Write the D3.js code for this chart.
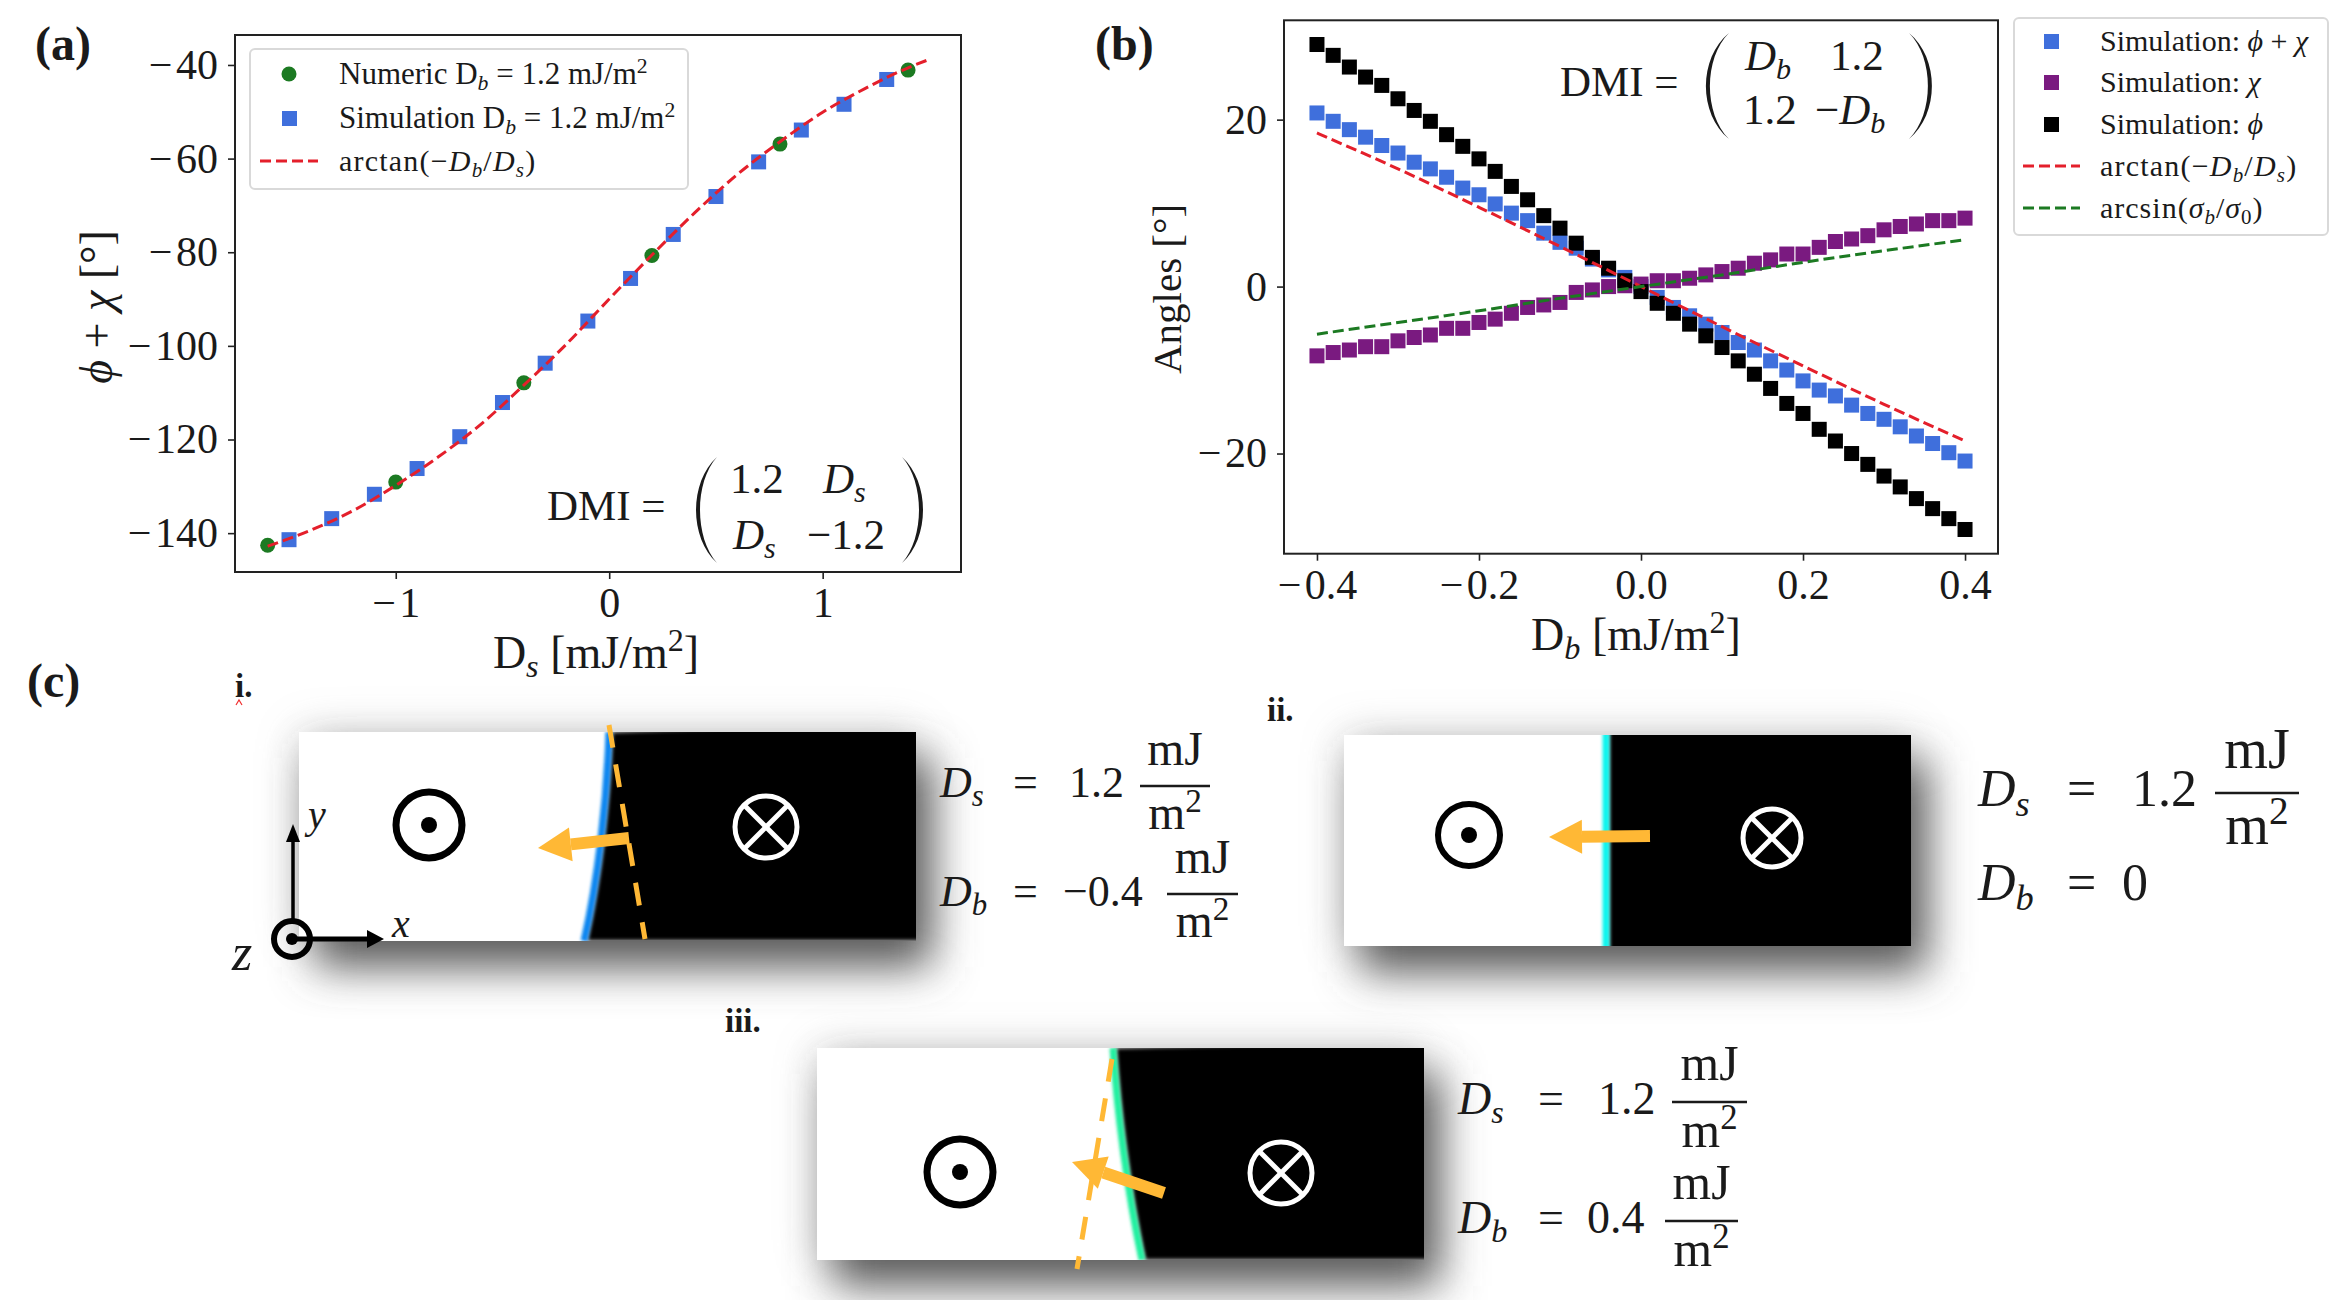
<!DOCTYPE html>
<html>
<head>
<meta charset="utf-8">
<script src="https://cdn.jsdelivr.net/npm/d3@7"></script>
<style>
  body { margin: 0; background: #fff; }
  svg { display: block; }
  text { font-family: "Liberation Serif", serif; fill: #1a1a1a; }
  .tick text { font-family: "Liberation Serif", serif; fill: #1a1a1a; }
</style>
</head>
<body>
<div id="chart"></div>
<script>
// panel (a)
const numericDs = [-1.6, -1.0, -0.4, 0.2, 0.8, 1.4];
const numericAngle = [-142.6, -129.1, -107.9, -80.7, -56.9, -41.1];
const simDs = [-1.5, -1.3, -1.1, -0.9, -0.7, -0.5, -0.3, -0.1, 0.1, 0.3, 0.5, 0.7, 0.9, 1.1, 1.3];
const simAngle = [-141.4, -136.9, -131.7, -126.2, -119.4, -112.1, -103.7, -94.7, -85.6, -76.2, -68.1, -60.7, -53.9, -48.4, -43.1];
const fitDs = [-1.6, -1.4, -1.2, -1.0, -0.8, -0.6, -0.4, -0.2, 0, 0.2, 0.4, 0.6, 0.8, 1.0, 1.2, 1.4, 1.5];
const fitAngle = [-142.8, -139.4, -135.2, -129.8, -123.7, -116.7, -108.4, -99.6, -90, -80.6, -71.6, -63.4, -56.4, -50.1, -45, -40.6, -38.8];
const xTicksA = [-1, 0, 1];
const yTicksA = [-140, -120, -100, -80, -60, -40];

// panel (b)
const dbValues = [-0.4, -0.38, -0.36, -0.34, -0.32, -0.3, -0.28, -0.26, -0.24, -0.22, -0.2, -0.18, -0.16, -0.14, -0.12, -0.1, -0.08, -0.06, -0.04, -0.02, 0,
  0.02, 0.04, 0.06, 0.08, 0.1, 0.12, 0.14, 0.16, 0.18, 0.2, 0.22, 0.24, 0.26, 0.28, 0.3, 0.32, 0.34, 0.36, 0.38, 0.4];
const sumAngle = [20.8, 19.8, 18.8, 17.9, 16.9, 16.0, 14.9, 14.1, 13.1, 11.8, 11.0, 9.9, 8.8, 7.9, 6.4, 5.3, 4.6, 3.3, 2.0, 1.1, 0,
  -1.3, -2.5, -3.5, -4.5, -5.5, -6.7, -7.6, -8.9, -10.0, -11.3, -12.4, -13.1, -14.2, -15.2, -15.9, -16.8, -17.9, -18.8, -19.9, -20.9];
const chiAngle = [-8.3, -7.9, -7.6, -7.2, -7.2, -6.5, -6.1, -5.8, -5.0, -5.0, -4.3, -3.9, -3.2, -2.5, -2.2, -1.9, -0.7, -0.4, 0, 0.1, 0.3,
  0.7, 0.7, 1.0, 1.4, 1.8, 2.2, 2.8, 3.2, 3.9, 3.9, 4.7, 5.4, 5.7, 6.1, 6.8, 7.2, 7.5, 7.9, 7.9, 8.2];
const phiAngle = [29.0, 27.7, 26.3, 25.1, 24.1, 22.5, 21.1, 19.8, 18.2, 16.8, 15.3, 13.8, 12.0, 10.4, 8.5, 7.0, 5.2, 3.5, 2.2, 0.7, -0.6,
  -2.0, -3.2, -4.5, -5.9, -7.3, -8.9, -10.5, -12.2, -14.0, -15.2, -17.1, -18.5, -20.0, -21.3, -22.7, -24.0, -25.4, -26.6, -27.8, -29.1];
const fitDb = [-0.4, -0.3, -0.2, -0.1, 0, 0.1, 0.2, 0.3, 0.4];
const arctanAngle = [18.4, 14.1, 9.5, 4.8, 0, -4.8, -9.5, -14.1, -18.5];
const arcsinAngle = [-5.7, -4.3, -2.9, -1.4, 0, 1.4, 2.9, 4.3, 5.6];
const xTicksB = [-0.4, -0.2, 0, 0.2, 0.4];
const yTicksB = [-20, 0, 20];

const width = 2344;
const height = 1300;
const blue = "#3f6fdc";
const purple = "#7a1a80";
const red = "#e41f2b";
const green = "#1c7a22";
const orange = "#ffb835";

const svg = d3.select("#chart").append("svg").attr("width", width).attr("height", height);
const defs = svg.append("defs");
function blurFilter(id, sd) {
  defs.append("filter").attr("id", id).attr("filterUnits", "userSpaceOnUse")
    .attr("x", 0).attr("y", 0).attr("width", width).attr("height", height)
    .append("feGaussianBlur").attr("stdDeviation", sd);
}
blurFilter("shadow", 22);
blurFilter("soft", 1.8);
blurFilter("edge", 2);

// tiny markup: *italic*, _{sub}, ^{sup}
function rich(parent, x, y, str, size, attrs) {
  const t = parent.append("text").attr("x", x).attr("y", y).attr("font-size", size);
  Object.entries(attrs || {}).forEach(([k, v]) => t.attr(k, v));
  const tokens = str.match(/_\{[^}]*\}|\^\{[^}]*\}|\*[^*]*\*|[^_^*]+/g);
  let shift = 0;
  tokens.forEach((tok) => {
    let txt = tok, dy = 0, fs = size, it = false;
    if (tok[0] === "_" || tok[0] === "^") {
      txt = tok.slice(2, -1);
      dy = tok[0] === "_" ? size * 0.2 : -size * 0.36;
      fs = size * 0.7;
    }
    if (txt[0] === "*") { txt = txt.slice(1, -1); it = true; }
    t.append("tspan").attr("dy", dy - shift).attr("font-size", fs)
      .attr("font-style", it ? "italic" : "normal").text(txt);
    shift = dy;
  });
  return t;
}

function frame(x, y) {
  svg.append("rect")
    .attr("x", x.range()[0]).attr("y", y.range()[1])
    .attr("width", x.range()[1] - x.range()[0]).attr("height", y.range()[0] - y.range()[1])
    .attr("fill", "none").attr("stroke", "#222").attr("stroke-width", 2);
}

// the reference minus is wider than the font's, so pad it a little
const wideMinus = (fmt) => (d) => fmt(d).replace("−", "−\u200A");

function axes(x, y, xTicks, yTicks, xFmt) {
  const gx = svg.append("g").attr("transform", `translate(0,${y.range()[0]})`)
    .call(d3.axisBottom(x).tickValues(xTicks).tickSize(7).tickPadding(8).tickFormat(wideMinus(xFmt)));
  const gy = svg.append("g").attr("transform", `translate(${x.range()[0]},0)`)
    .call(d3.axisLeft(y).tickValues(yTicks).tickSize(7).tickPadding(10).tickFormat(wideMinus(d3.format("d"))));
  [gx, gy].forEach((g) => {
    g.select(".domain").remove();
    g.selectAll("line").attr("stroke", "#222").attr("stroke-width", 1.6);
    g.selectAll("text").attr("font-size", 42);
  });
}

function squares(x, y, xs, ys, color) {
  svg.append("g").selectAll("rect").data(xs).enter().append("rect")
    .attr("x", (d) => x(d) - 7.5)
    .attr("y", (d, i) => y(ys[i]) - 7.5)
    .attr("width", 15).attr("height", 15)
    .attr("fill", color);
}

function dashed(x, y, xs, ys, color) {
  const line = d3.line().x((d) => x(d)).y((d, i) => y(ys[i])).curve(d3.curveMonotoneX);
  svg.append("path").datum(xs).attr("d", line)
    .attr("fill", "none").attr("stroke", color)
    .attr("stroke-width", 3).attr("stroke-dasharray", "11 5");
}

function legendBox(x, y, w, h) {
  svg.append("rect").attr("x", x).attr("y", y).attr("width", w).attr("height", h).attr("rx", 5)
    .attr("fill", "#fff").attr("stroke", "#d9d9d9").attr("stroke-width", 2);
}

function legendLine(x1, x2, y, color) {
  svg.append("line").attr("x1", x1).attr("x2", x2).attr("y1", y).attr("y2", y)
    .attr("stroke", color).attr("stroke-width", 3).attr("stroke-dasharray", "11 5");
}

// tapered bracket, filled so the middle is heavier than the tips
function paren(x, y0, y1, bulge) {
  const mid = (y0 + y1) / 2;
  const extra = bulge > 0 ? 4 : -4;
  const k = 4 / 3;
  svg.append("path")
    .attr("d", `M${x},${y0} C${x - bulge * k},${mid - 28} ${x - bulge * k},${mid + 28} ${x},${y1}` +
      ` C${x - (bulge + extra) * k},${mid + 28} ${x - (bulge + extra) * k},${mid - 28} ${x},${y0} Z`)
    .attr("fill", "#1a1a1a");
}

// panel (a)
const xA = d3.scaleLinear().domain([-1.753, 1.648]).range([235, 961]);
const yA = d3.scaleLinear().domain([-148.3, -33.6]).range([572, 35]);
axes(xA, yA, xTicksA, yTicksA, d3.format("d"));
svg.append("g").selectAll("circle").data(numericDs).enter().append("circle")
  .attr("cx", (d) => xA(d)).attr("cy", (d, i) => yA(numericAngle[i])).attr("r", 7.5).attr("fill", green);
squares(xA, yA, simDs, simAngle, blue);
dashed(xA, yA, fitDs, fitAngle, red);
frame(xA, yA);

legendBox(250, 49, 438, 140);
svg.append("circle").attr("cx", 289).attr("cy", 74).attr("r", 7.5).attr("fill", green);
svg.append("rect").attr("x", 282).attr("y", 111).attr("width", 15).attr("height", 15).attr("fill", blue);
legendLine(260, 318, 161, red);
rich(svg, 339, 84, "Numeric D_{*b*} = 1.2 mJ/m^{2}", 31);
rich(svg, 339, 128, "Simulation D_{*b*} = 1.2 mJ/m^{2}", 31);
rich(svg, 339, 171, "arctan(−*D*_{*b*}/*D*_{*s*})", 30, { "letter-spacing": 1.2 });

rich(svg, 547, 520, "DMI =", 43);
paren(717, 457, 563, 17);
paren(902, 457, 563, -17);
rich(svg, 730, 493, "1.2", 43);
rich(svg, 823, 493, "*D*_{*s*}", 43);
rich(svg, 733, 549, "*D*_{*s*}", 43);
rich(svg, 807, 549, "−1.2", 43);

rich(svg, 596, 668, "D_{*s*} [mJ/m^{2}]", 46, { "text-anchor": "middle" });
rich(svg, 0, 0, "*ϕ* + *χ* [°]", 46, { "text-anchor": "middle", transform: "translate(112,307) rotate(-90)" });

// panel (b)
const xB = d3.scaleLinear().domain([-0.4407, 0.4407]).range([1284, 1998]);
const yB = d3.scaleLinear().domain([-32, 31.9]).range([553.7, 20.3]);
axes(xB, yB, xTicksB, yTicksB, d3.format(".1f"));
squares(xB, yB, dbValues, sumAngle, blue);
squares(xB, yB, dbValues, chiAngle, purple);
squares(xB, yB, dbValues, phiAngle, "#000");
dashed(xB, yB, fitDb, arctanAngle, red);
dashed(xB, yB, fitDb, arcsinAngle, green);
frame(xB, yB);

legendBox(2014, 18, 314, 217);
svg.append("rect").attr("x", 2044).attr("y", 34).attr("width", 15).attr("height", 15).attr("fill", blue);
svg.append("rect").attr("x", 2044).attr("y", 75).attr("width", 15).attr("height", 15).attr("fill", purple);
svg.append("rect").attr("x", 2044).attr("y", 117).attr("width", 15).attr("height", 15).attr("fill", "#000");
legendLine(2023, 2080, 166, red);
legendLine(2023, 2080, 208, green);
rich(svg, 2100, 51, "Simulation: *ϕ* + *χ*", 30);
rich(svg, 2100, 92, "Simulation: *χ*", 30);
rich(svg, 2100, 134, "Simulation: *ϕ*", 30);
rich(svg, 2100, 176, "arctan(−*D*_{*b*}/*D*_{*s*})", 30, { "letter-spacing": 1.2 });
rich(svg, 2100, 218, "arcsin(*σ*_{*b*}/*σ*_{0})", 30, { "letter-spacing": 1 });

rich(svg, 1560, 96, "DMI =", 43);
paren(1729, 33, 139, 19);
paren(1909, 33, 139, -19);
rich(svg, 1745, 70, "*D*_{*b*}", 43);
rich(svg, 1830, 70, "1.2", 43);
rich(svg, 1743, 124, "1.2", 43);
rich(svg, 1815, 124, "−*D*_{*b*}", 43);

rich(svg, 1636, 650, "D_{*b*} [mJ/m^{2}]", 46, { "text-anchor": "middle" });
rich(svg, 0, 0, "Angles [°]", 41, { "text-anchor": "middle", transform: "translate(1181,289) rotate(-90)" });

// panel labels
[["(a)", 35, 60], ["(b)", 1095, 60], ["(c)", 27, 697]].forEach(([t, x, y]) => {
  svg.append("text").attr("x", x).attr("y", y).attr("font-size", 48).attr("font-weight", "bold").text(t);
});
[["i.", 235, 697], ["ii.", 1267, 721], ["iii.", 725, 1032]].forEach(([t, x, y]) => {
  svg.append("text").attr("x", x).attr("y", y).attr("font-size", 33).attr("font-weight", "bold").text(t);
});
svg.append("path").attr("d", "M236,705 L239,700 L242,705").attr("fill", "none").attr("stroke", "#f03030").attr("stroke-width", 1.2);

// panel (c) schematics
function domainWall(id, x0, x1, y0, y1, wallD, fillD, edge) {
  // faint halo all round, heavier shadow pushed down and right
  svg.append("rect").attr("x", x0).attr("y", y0).attr("width", x1 - x0).attr("height", y1 - y0)
    .attr("fill", "#888").attr("opacity", 0.35).attr("filter", "url(#shadow)");
  svg.append("rect").attr("x", x0 + 16).attr("y", y0 + 26).attr("width", x1 - x0).attr("height", y1 - y0)
    .attr("fill", "#5a5a5a").attr("filter", "url(#shadow)");
  defs.append("clipPath").attr("id", id).append("rect")
    .attr("x", x0).attr("y", y0).attr("width", x1 - x0).attr("height", y1 - y0);
  const g = svg.append("g").attr("clip-path", `url(#${id})`);
  g.append("rect").attr("x", x0).attr("y", y0).attr("width", x1 - x0).attr("height", y1 - y0).attr("fill", "#fff");
  g.append("path").attr("d", fillD).attr("fill", "#000").attr("filter", "url(#edge)");
  g.append("path").attr("d", wallD).attr("fill", "none").attr("stroke", edge).attr("stroke-width", 7).attr("filter", "url(#soft)");
}

function dotSymbol(cx, cy, r, dot, sw) {
  svg.append("circle").attr("cx", cx).attr("cy", cy).attr("r", r).attr("fill", "none").attr("stroke", "#000").attr("stroke-width", sw);
  svg.append("circle").attr("cx", cx).attr("cy", cy).attr("r", dot).attr("fill", "#000");
}

function crossSymbol(cx, cy, r) {
  svg.append("circle").attr("cx", cx).attr("cy", cy).attr("r", r).attr("fill", "none").attr("stroke", "#fff").attr("stroke-width", 5);
  const k = r * 0.71;
  [[-k, -k, k, k], [-k, k, k, -k]].forEach(([a, b, c, d]) => {
    svg.append("line").attr("x1", cx + a).attr("y1", cy + b).attr("x2", cx + c).attr("y2", cy + d)
      .attr("stroke", "#fff").attr("stroke-width", 5);
  });
}

function fatArrow(x1, y1, x2, y2) {
  const a = Math.atan2(y2 - y1, x2 - x1);
  const ux = Math.cos(a), uy = Math.sin(a);
  const bx = x2 - ux * 33, by = y2 - uy * 33;
  svg.append("line").attr("x1", x1).attr("y1", y1).attr("x2", bx).attr("y2", by)
    .attr("stroke", orange).attr("stroke-width", 12);
  svg.append("path")
    .attr("d", `M${x2},${y2} L${bx - uy * 17},${by + ux * 17} L${bx + uy * 17},${by - ux * 17} Z`)
    .attr("fill", orange);
}

function dashLine(x1, y1, x2, y2) {
  svg.append("line").attr("x1", x1).attr("y1", y1).attr("x2", x2).attr("y2", y2)
    .attr("stroke", orange).attr("stroke-width", 5).attr("stroke-dasharray", "23 17");
}

function fraction(x0, x1, y, size) {
  const mid = (x0 + x1) / 2;
  svg.append("line").attr("x1", x0).attr("x2", x1).attr("y1", y).attr("y2", y).attr("stroke", "#1a1a1a").attr("stroke-width", 2.6);
  rich(svg, mid, y - size * 0.48, "mJ", size * 1.08, { "text-anchor": "middle" });
  rich(svg, mid, y + size * 0.98, "m^{2}", size * 1.08, { "text-anchor": "middle" });
}

// i.
domainWall("clipI", 299, 916, 732, 941,
  "M609,732 C607,800 598,880 584,941",
  "M612,732 C610,800 601,880 587,941 L930,941 L930,720 Z", "#0a86f0");
dotSymbol(429, 825, 33, 8, 7);
crossSymbol(766, 827, 31);
dashLine(609, 725, 645, 939);
fatArrow(629, 838, 538, 848);

svg.append("line").attr("x1", 293).attr("y1", 920).attr("x2", 293).attr("y2", 835).attr("stroke", "#000").attr("stroke-width", 3.5);
svg.append("path").attr("d", "M293,824 L286,842 L300,842 Z").attr("fill", "#000");
svg.append("line").attr("x1", 292).attr("y1", 939).attr("x2", 372).attr("y2", 939).attr("stroke", "#000").attr("stroke-width", 5);
svg.append("path").attr("d", "M384,939 L367,930 L367,948 Z").attr("fill", "#000");
dotSymbol(292, 939, 18, 6, 6);
rich(svg, 308, 828, "*y*", 40);
rich(svg, 392, 937, "*x*", 40);
rich(svg, 232, 970, "*z*", 52);

rich(svg, 940, 797, "*D*_{*s*}", 44);
rich(svg, 1013, 797, "=", 44);
rich(svg, 1069, 797, "1.2", 44);
fraction(1140, 1210, 786, 44);
rich(svg, 940, 906, "*D*_{*b*}", 44);
rich(svg, 1013, 906, "=", 44);
rich(svg, 1063, 906, "−0.4", 44);
fraction(1167, 1238, 894, 44);

// ii.
domainWall("clipII", 1344, 1911, 735, 946,
  "M1606,725 L1606,956",
  "M1609,725 L1609,956 L1925,956 L1925,725 Z", "#10f5ee");
dotSymbol(1469, 835, 31, 8, 6);
crossSymbol(1772, 838, 29);
fatArrow(1650, 836, 1549, 837);

rich(svg, 1978, 806, "*D*_{*s*}", 52);
rich(svg, 2067, 806, "=", 52);
rich(svg, 2132, 806, "1.2", 52);
fraction(2215, 2299, 793, 52);
rich(svg, 1978, 900, "*D*_{*b*}", 52);
rich(svg, 2067, 900, "=", 52);
rich(svg, 2122, 900, "0", 52);

// iii.
domainWall("clipIII", 817, 1424, 1048, 1260,
  "M1113,1048 C1117,1110 1127,1190 1142,1260",
  "M1116,1048 C1120,1110 1130,1190 1145,1260 L1440,1260 L1440,1040 Z", "#20f0a0");
dotSymbol(960, 1172, 33, 8, 7);
crossSymbol(1281, 1173, 31);
dashLine(1112, 1059, 1077, 1269);
fatArrow(1164, 1193, 1072, 1162);

rich(svg, 1458, 1114, "*D*_{*s*}", 46);
rich(svg, 1538, 1114, "=", 46);
rich(svg, 1598, 1114, "1.2", 46);
fraction(1672, 1747, 1102, 46);
rich(svg, 1458, 1233, "*D*_{*b*}", 46);
rich(svg, 1538, 1233, "=", 46);
rich(svg, 1587, 1233, "0.4", 46);
fraction(1665, 1738, 1221, 46);
</script>
</body>
</html>
